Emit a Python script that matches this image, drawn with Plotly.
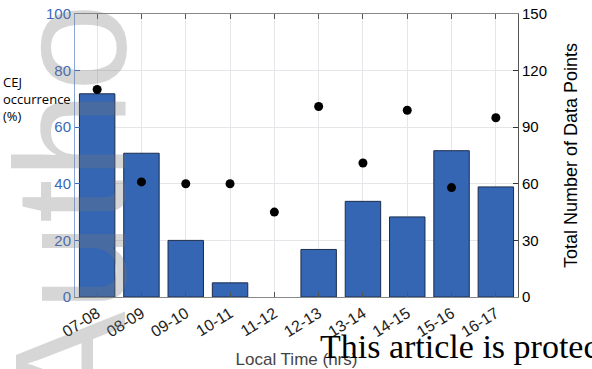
import plotly.graph_objects as go

# Hourly bins (local time)
hours = ["07-08", "08-09", "09-10", "10-11", "11-12",
         "12-13", "13-14", "14-15", "15-16", "16-17"]
# CEJ occurrence per bin (%)
cej_pct = [71.8, 50.8, 20.0, 5.0, 0.0, 16.8, 33.8, 28.3, 51.7, 38.9]
# Total number of data points per bin
n_points = [110, 61, 60, 60, 45, 101, 71, 99, 58, 95]

left_ticks = [0, 20, 40, 60, 80, 100]
right_ticks = [0, 30, 60, 90, 120, 150]

BLUE = "#3a68bd"
BAR = "#3466b4"
GRID = "#e6e6ea"

# no outline on empty bins
outline_w = [1 if v > 0 else 0 for v in cej_pct]

fig = go.Figure()
fig.add_trace(go.Bar(
    x=hours, y=cej_pct, width=0.8,
    marker=dict(color=BAR, line=dict(color="#1c2c4c", width=outline_w)),
    yaxis="y", showlegend=False,
))
fig.add_trace(go.Scatter(
    x=hours, y=n_points, mode="markers",
    marker=dict(color="black", size=9),
    yaxis="y2", showlegend=False,
))

fig.update_layout(
    width=592, height=369,
    margin=dict(l=75, r=74, t=14, b=72),
    paper_bgcolor="white", plot_bgcolor="white",
    font=dict(family="Liberation Sans, Arial", size=15, color="black"),
    xaxis=dict(
        type="category", range=[-0.5, 9.5], automargin=False,
        tickangle=-32, ticks="inside", ticklen=5, tickcolor="#555",
        showline=True, linecolor="#888", linewidth=1, mirror="ticks",
        showgrid=True, gridcolor=GRID,
        tickfont=dict(size=16, color="#222"),
        title=dict(text="Local Time (hrs)", standoff=14,
                   font=dict(size=17, color="#444")),
    ),
    yaxis=dict(
        range=[0, 100], tickvals=left_ticks, automargin=False,
        ticks="inside", ticklen=5, tickcolor=BLUE,
        showline=True, linecolor="#8aa6d8", linewidth=1,
        showgrid=True, gridcolor=GRID, zeroline=False,
        tickfont=dict(size=15, color=BLUE),
    ),
    yaxis2=dict(
        range=[0, 150], tickvals=right_ticks, overlaying="y", side="right",
        automargin=False,
        ticks="inside", ticklen=5, tickcolor="#333",
        showline=True, linecolor="#555", linewidth=1,
        showgrid=False, zeroline=False,
        tickfont=dict(size=15, color="black"),
        title=dict(text="Total Number of Data Points", standoff=18,
                   font=dict(size=18, color="black")),
    ),
)

# left axis caption
fig.add_annotation(
    text="CEJ<br>occurrence<br>(%)", xref="paper", yref="paper",
    x=-0.167, y=0.80, xanchor="left", yanchor="top", align="left",
    showarrow=False, font=dict(family="Open Sans, Noto Sans", size=13, color="black"),
)

# vertical watermark
fig.add_annotation(
    text="Author", xref="paper", yref="paper",
    x=-0.012, y=0.40, xanchor="center", yanchor="middle",
    textangle=-90, showarrow=False,
    font=dict(family="Liberation Sans, Arial", size=158, color="rgba(120,120,120,0.3)"),
)

# copyright footer
fig.add_annotation(
    text="This article is protected by copyright. All rights reserved",
    xref="paper", yref="paper", x=0.548, y=-0.175,
    xanchor="left", yanchor="middle", showarrow=False,
    font=dict(family="Liberation Serif, DejaVu Serif", size=34, color="black"),
)

fig.write_html("out.html")
